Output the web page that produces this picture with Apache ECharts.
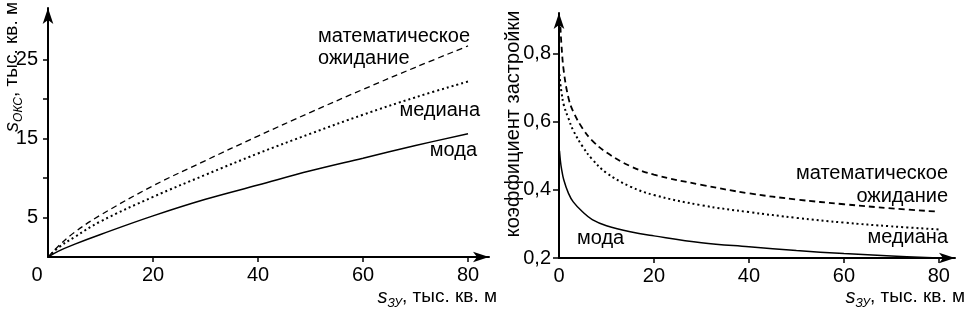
<!DOCTYPE html>
<html>
<head>
<meta charset="utf-8">
<script src="https://cdn.jsdelivr.net/npm/echarts@6/dist/echarts.min.js"></script>
<style>
  html, body { margin: 0; padding: 0; background: #fff; }
  #chart { width: 967px; height: 309px; }
</style>
</head>
<body>
<div id="chart"></div>
<script>
// левый график: площадь ОКС от площади ЗУ
const leftX = [0, 2, 5, 10, 20, 30, 40, 50, 60, 70, 80];
const leftMode = [0, 0.75, 1.6, 2.85, 5.2, 7.3, 9.1, 10.9, 12.5, 14.1, 15.6];
const leftMedian = [0, 1.2, 2.5, 4.5, 7.6, 10.4, 13.1, 15.6, 18.0, 20.2, 22.2];
const leftMean = [0, 1.4, 3.1, 5.3, 9.0, 12.2, 15.3, 18.3, 21.2, 24.0, 26.7];

// правый график: коэффициент застройки
const rightX = [0.1, 0.3, 0.5, 1, 2, 3, 5, 7, 10, 15, 20, 30, 40, 50, 60, 70, 80];
const rightMean = [null, 0.88, 0.83, 0.75, 0.67, 0.63, 0.58, 0.545, 0.51, 0.47, 0.445, 0.415, 0.39, 0.372, 0.358, 0.346, 0.336];
const rightMedian = [0.74, 0.71, 0.69, 0.65, 0.61, 0.575, 0.527, 0.49, 0.45, 0.41, 0.385, 0.355, 0.335, 0.318, 0.304, 0.293, 0.284];
const rightMode = [0.515, 0.485, 0.465, 0.43, 0.39, 0.365, 0.335, 0.313, 0.295, 0.277, 0.265, 0.245, 0.233, 0.222, 0.213, 0.206, 0.2];

const xTicks = [20, 40, 60, 80];
const xLabels = [0, 20, 40, 60, 80];
const leftYTicks = [5, 10, 15, 20, 25];
const leftYLabels = [5, 15, 25];
const rightYTicks = [0.2, 0.4, 0.6, 0.8];

const FONT = 'Liberation Sans, Arial, sans-serif';
const BLACK = '#000';

function pairs(xs, ys) {
    return xs.map((x, i) => [x, ys[i]]);
}

function axisLine() {
    return {
        onZero: false,
        symbol: ['none', 'arrow'],
        symbolSize: [8, 16],
        lineStyle: { color: BLACK, width: 2 }
    };
}

function lineSeries(name, xi, data, type, width) {
    return {
        name: name,
        type: 'line',
        xAxisIndex: xi,
        yAxisIndex: xi,
        data: data,
        showSymbol: false,
        smooth: 0.4,
        lineStyle: { color: BLACK, width: width, type: type },
        z: 3
    };
}

// подпись оси вида s_индекс, тыс. кв. м
function axisName(sub) {
    return {
        text: '{s|s}{sub|' + sub + '}{t|, тыс. кв. м}',
        align: 'right', verticalAlign: 'middle',
        rich: {
            s: { fontSize: 20, fontStyle: 'italic', fontFamily: FONT, fill: BLACK, lineHeight: 26 },
            sub: { fontSize: 12, fontStyle: 'italic', fontFamily: FONT, fill: BLACK, verticalAlign: 'bottom', lineHeight: 12 },
            t: { fontSize: 19, fontFamily: FONT, fill: BLACK, lineHeight: 26 }
        }
    };
}

function note(x, y, text, align) {
    return { type: 'text', x: x, y: y, style: { text: text, align: align, verticalAlign: 'middle', fontSize: 20, fontFamily: FONT, fill: BLACK } };
}

const chart = echarts.init(document.getElementById('chart'));

const option = {
    backgroundColor: '#fff',
    animation: false,
    textStyle: { fontFamily: FONT, color: BLACK },
    grid: [
        { left: 48, top: 8, width: 441, height: 249, outerBoundsMode: 'none' },
        { left: 559, top: 13, width: 396, height: 245, outerBoundsMode: 'none' }
    ],
    xAxis: [
        {
            gridIndex: 0, type: 'value', min: 0, max: 84,
            axisLine: axisLine(),
            axisTick: { customValues: xTicks, length: 5, lineStyle: { color: BLACK, width: 1.5 } },
            axisLabel: {
                customValues: xLabels, margin: 8, fontSize: 20, color: BLACK, fontFamily: FONT,
                formatter: v => v === 0 ? '{z|0}' : String(v),
                rich: { z: { fontSize: 20, fontFamily: FONT, color: BLACK, padding: [0, 22, 0, 0] } }
            },
            splitLine: { show: false }
        },
        {
            gridIndex: 1, type: 'value', min: 0, max: 83.4,
            axisLine: axisLine(),
            axisTick: { customValues: xTicks, length: 5, lineStyle: { color: BLACK, width: 1.5 } },
            axisLabel: { customValues: xLabels, margin: 8, fontSize: 20, color: BLACK, fontFamily: FONT },
            splitLine: { show: false }
        }
    ],
    yAxis: [
        {
            gridIndex: 0, type: 'value', min: 0, max: 31.5,
            axisLine: axisLine(),
            axisTick: { customValues: leftYTicks, length: 5, lineStyle: { color: BLACK, width: 1.5 } },
            axisLabel: { customValues: leftYLabels, margin: 10, fontSize: 20, color: BLACK, fontFamily: FONT },
            splitLine: { show: false }
        },
        {
            gridIndex: 1, type: 'value', min: 0.2, max: 0.92,
            axisLine: axisLine(),
            axisTick: { customValues: rightYTicks, length: 6, lineStyle: { color: BLACK, width: 1.5 } },
            axisLabel: {
                customValues: rightYTicks, margin: 8, fontSize: 20, color: BLACK, fontFamily: FONT,
                formatter: v => v.toFixed(1).replace('.', ',')
            },
            splitLine: { show: false }
        }
    ],
    series: [
        lineSeries('мода', 0, pairs(leftX, leftMode), 'solid', 1.5),
        lineSeries('медиана', 0, pairs(leftX, leftMedian), [2, 3], 2),
        lineSeries('математическое ожидание', 0, pairs(leftX, leftMean), [6, 4], 1.3),
        lineSeries('мода', 1, pairs(rightX, rightMode), 'solid', 1.5),
        lineSeries('медиана', 1, pairs(rightX, rightMedian), [2, 3], 2),
        lineSeries('математическое ожидание', 1, pairs(rightX, rightMean), [6, 4], 1.8)
    ],
    graphic: [
        // подписи осей
        { type: 'text', x: 12, y: 2, rotation: Math.PI / 2, style: axisName('ОКС') },
        { type: 'text', x: 497, y: 297, style: axisName('ЗУ') },
        { type: 'text', x: 965, y: 297, style: axisName('ЗУ') },
        {
            type: 'text', x: 513, y: 124, rotation: Math.PI / 2,
            style: { text: 'коэффициент застройки', align: 'center', verticalAlign: 'middle', fontSize: 20, fontFamily: FONT, fill: BLACK }
        },
        // подписи кривых, левый график
        note(318, 36, 'математическое', 'left'),
        note(318, 58, 'ожидание', 'left'),
        note(480, 110, 'медиана', 'right'),
        note(477, 150, 'мода', 'right'),
        // подписи кривых, правый график
        note(948, 173, 'математическое', 'right'),
        note(948, 196, 'ожидание', 'right'),
        note(948, 237, 'медиана', 'right'),
        note(577, 238, 'мода', 'left')
    ]
};

chart.setOption(option);
</script>
</body>
</html>
